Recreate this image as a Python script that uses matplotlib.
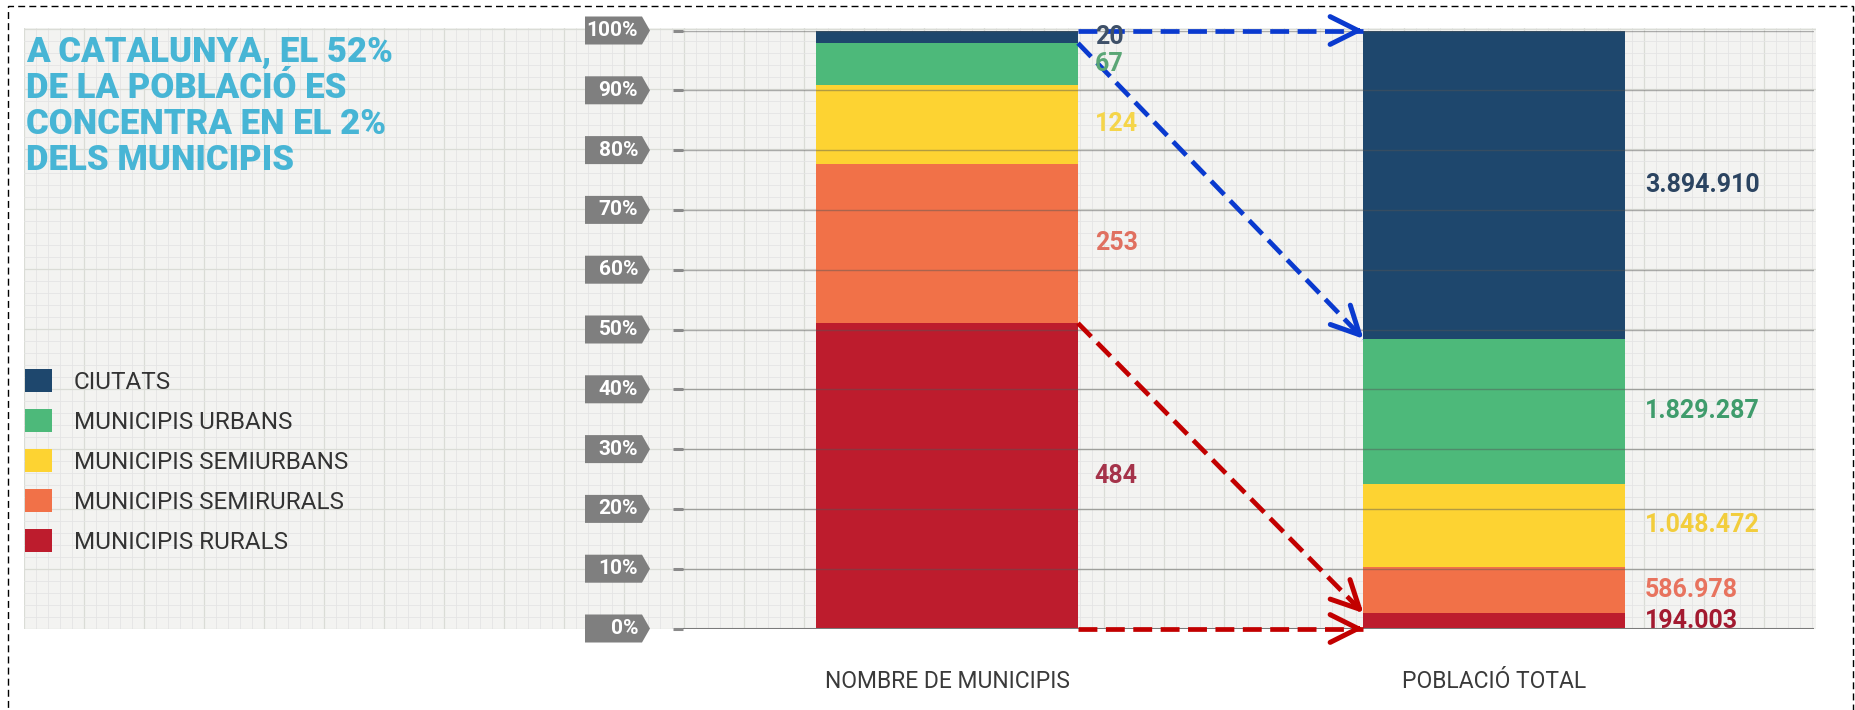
import matplotlib
matplotlib.use("Agg")
import matplotlib.pyplot as plt
from matplotlib.patches import Patch, Polygon, Rectangle
from matplotlib.ticker import MultipleLocator
import numpy as np

plt.rcParams['font.family'] = ['Roboto', 'DejaVu Sans']

# dades del grafic
categories = ["CIUTATS", "MUNICIPIS URBANS", "MUNICIPIS SEMIURBANS",
              "MUNICIPIS SEMIRURALS", "MUNICIPIS RURALS"]
n_municipis = [20, 67, 124, 253, 484]
poblacio = [3894910, 1829287, 1048472, 586978, 194003]
etiquetes_municipis = ["20", "67", "124", "253", "484"]
etiquetes_poblacio = ["3.894.910", "1.829.287", "1.048.472", "586.978", "194.003"]
noms_barres = ["NOMBRE DE MUNICIPIS", "POBLACIÓ TOTAL"]
ticks_pct = [0, 10, 20, 30, 40, 50, 60, 70, 80, 90, 100]
titol = "A CATALUNYA, EL 52%\nDE LA POBLACIÓ ES\nCONCENTRA EN EL 2%\nDELS MUNICIPIS"

colors = ["#1e476d", "#4db97a", "#fdd332", "#f17148", "#bd1c2d"]
colors_text_mun = ["#3e5068", "#5aa676", "#f5d54a", "#e07060", "#a5334a"]
colors_text_pob = ["#2b4461", "#3f9c6c", "#f2cd3c", "#e8735e", "#a31a30"]
blau = "#0a3acf"
vermell = "#c20000"

W, H = 1856, 710


def fx(px):
    return px / W


def fy(py):
    return 1 - py / H


fig = plt.figure(figsize=(W / 100, H / 100), dpi=100)
fig.patch.set_facecolor('white')

# fons de paper quadriculat
bg = fig.add_axes([fx(24), fy(629), fx(1816) - fx(24), fy(28) - fy(629)], zorder=0)
bg.set_facecolor('#f3f3f1')
bg.set_xlim(0, 1792)
bg.set_ylim(0, 601)
for eix in (bg.xaxis, bg.yaxis):
    eix.set_major_locator(MultipleLocator(60))
    eix.set_minor_locator(MultipleLocator(12))
bg.grid(which='minor', color='#e4e4e4', lw=0.6)
bg.grid(which='major', color='#dadcd6', lw=0.9)
bg.tick_params(which='both', length=0, labelbottom=False, labelleft=False)
for s in bg.spines.values():
    s.set_visible(False)

# eix principal
ax_left, ax_right = 683, 1814
ax = fig.add_axes([fx(ax_left), fy(628.5), fx(ax_right) - fx(ax_left), fy(30.5) - fy(628.5)], zorder=2)
ax.set_facecolor('none')
for s in ax.spines.values():
    s.set_visible(False)
ax.set_xlim(-0.4822, 1.5836)
ax.set_ylim(0, 100)
ample = 0.4785

pct_m = 100 * np.array(n_municipis) / sum(n_municipis)
pct_p = 100 * np.array(poblacio) / sum(poblacio)
# apilat de baix (rural) a dalt (ciutats)
base_m = 100 - np.cumsum(pct_m)
base_p = 100 - np.cumsum(pct_p)

for i in range(len(categories)):
    ax.bar(0, pct_m[i], ample, bottom=base_m[i], color=colors[i], zorder=2)
    ax.bar(1, pct_p[i], ample, bottom=base_p[i], color=colors[i], zorder=2)
    ax.annotate(etiquetes_municipis[i], (ample / 2, base_m[i] + pct_m[i] / 2),
                xytext=(12, 0), textcoords='offset points', va='center', ha='left',
                fontsize=18, fontweight='bold', color=colors_text_mun[i], zorder=7,
                annotation_clip=False)
    ax.annotate(etiquetes_poblacio[i], (1 + ample / 2, base_p[i] + pct_p[i] / 2),
                xytext=(14, 0), textcoords='offset points', va='center', ha='left',
                fontsize=18, fontweight='bold', color=colors_text_pob[i], zorder=7,
                annotation_clip=False)

# linies horitzontals per sobre de les barres
for t in ticks_pct[1:]:
    ax.axhline(t, color='#555555', alpha=0.45, lw=1, zorder=3)
ax.axhline(0, color='#7a7a7a', lw=2.2, zorder=3)

ax.set_yticks(ticks_pct)
ax.set_yticklabels([])
ax.tick_params(axis='y', length=7, width=2.2, color='#8a8a8a', direction='out')
ax.set_xticks([0, 1], noms_barres)
ax.tick_params(axis='x', length=0, pad=30, labelsize=16.5, labelcolor='#3a3a3a')

# etiquetes de percentatge en forma de fletxa
trans = ax.get_yaxis_transform()


def ax_x(px):
    return (px - ax_left) / (ax_right - ax_left)


h = 14 / 598 * 100
for t in ticks_pct:
    verts = [(ax_x(585), t - h), (ax_x(642), t - h), (ax_x(650), t),
             (ax_x(642), t + h), (ax_x(585), t + h)]
    ax.add_patch(Polygon(verts, closed=True, transform=trans, facecolor='#7f7f7f',
                         edgecolor='none', clip_on=False, zorder=3))
    ax.text(ax_x(638), t, f"{t}%", transform=trans, ha='right', va='center',
            color='white', fontsize=15, fontweight='bold', clip_on=False, zorder=4)


# fletxes discontinues
def fletxa(p0, p1, color):
    p0 = np.array(p0, dtype=float)
    p1 = np.array(p1, dtype=float)
    ax.plot([p0[0], p1[0]], [p0[1], p1[1]], color=color, lw=3.4,
            linestyle=(0, (4, 1.8)), zorder=5, clip_on=False)
    ax.annotate('', xy=p1, xytext=p1 - 0.03 * (p1 - p0),
                arrowprops=dict(arrowstyle='->,head_length=1.0,head_width=0.5',
                                color=color, lw=3.6, mutation_scale=20,
                                shrinkA=0, shrinkB=0),
                zorder=6, annotation_clip=False)


xa = ample / 2
xb = 1 - ample / 2
fletxa((xa, 100), (xb, 100), blau)
fletxa((xa, 100 - pct_m[0]), (xb, 100 - pct_p[0]), blau)
fletxa((xa, pct_m[-1]), (xb, pct_p[-1]), vermell)
fletxa((xa, 0), (xb, 0), vermell)

# titol
fig.text(fx(26), fy(36), titol, ha='left', va='top', fontsize=25,
         fontweight='heavy', color='#47b5d5', linespacing=1.12)

# llegenda
handles = [Patch(facecolor=c, edgecolor='none', label=l) for c, l in zip(colors, categories)]
fig.legend(handles=handles, loc='upper left', bbox_to_anchor=(fx(25), fy(369)),
           frameon=False, fontsize=17.5, handlelength=1.1, handleheight=1.1,
           handletextpad=0.9, labelspacing=0.62, borderpad=0, borderaxespad=0,
           labelcolor='#333333')

# marc discontinu
fig.add_artist(Rectangle((fx(8), -0.02), fx(1853) - fx(8), fy(6) + 0.02,
                         transform=fig.transFigure, fill=False, edgecolor='black',
                         lw=1, linestyle=(0, (5, 3)), zorder=10))

fig.savefig('out.png', dpi=100, facecolor='white')
